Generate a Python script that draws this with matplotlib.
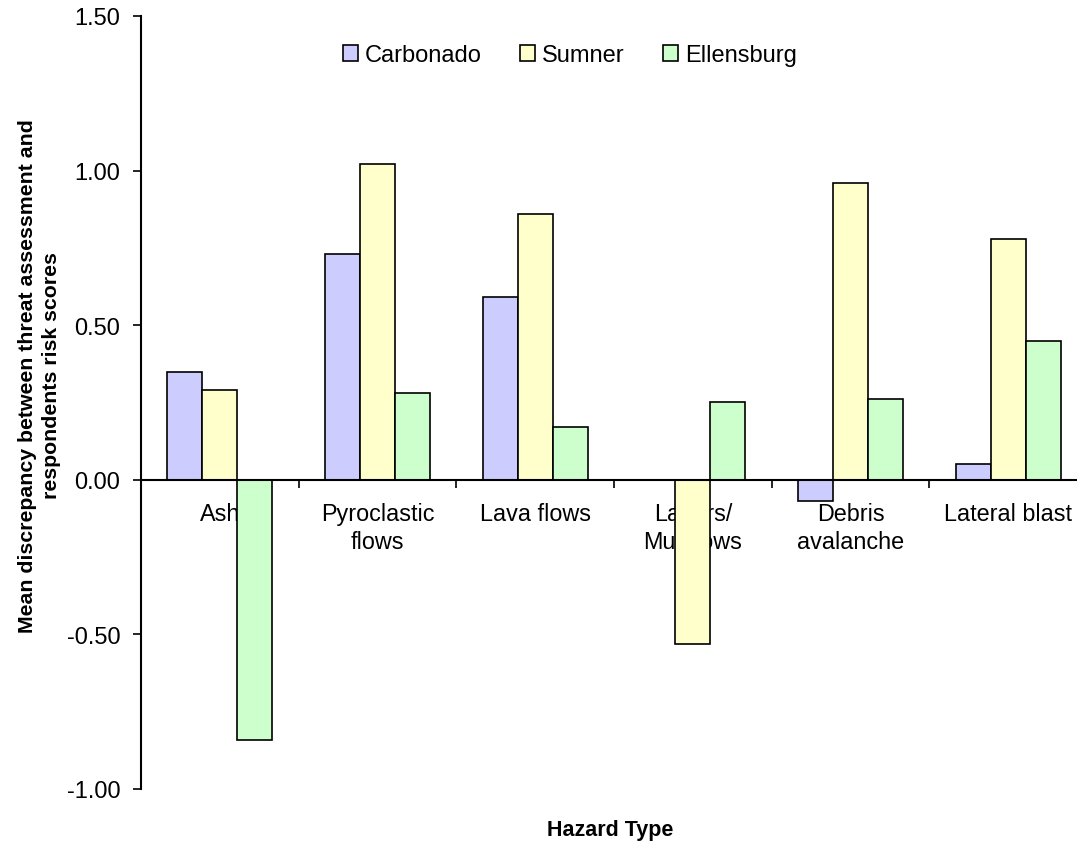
import numpy as np
import matplotlib.pyplot as plt

hazards = ['Ash', 'Pyroclastic\nflows', 'Lava flows', 'Lahars/\nMudflows', 'Debris\navalanche', 'Lateral blast']
carbonado = [0.35, 0.73, 0.59, 0.0, -0.07, 0.05]
sumner = [0.29, 1.02, 0.86, -0.53, 0.96, 0.78]
ellensburg = [-0.84, 0.28, 0.17, 0.25, 0.26, 0.45]
series = ['Carbonado', 'Sumner', 'Ellensburg']
colors = ['#CCCCFF', '#FFFFCC', '#CCFFCC']

plt.rcParams['font.family'] = ['Liberation Sans', 'DejaVu Sans']

fig = plt.figure(figsize=(10.77, 8.45), dpi=100)
ax = fig.add_axes([0.1309, 0.0651, 0.8784, 0.9148])

x = np.arange(len(hazards)) + 0.5
w = 0.222
for j, (vals, name) in enumerate(zip([carbonado, sumner, ellensburg], series)):
    ax.bar(x + (j - 1) * w, vals, width=w, color=colors[j], edgecolor='black',
           linewidth=1.2, label=name, zorder=2)

ax.set_xlim(0, 6)
ax.set_ylim(-1.0, 1.5)
yt = [-1.0, -0.5, 0.0, 0.5, 1.0, 1.5]
ax.set_yticks(yt)
ax.set_yticklabels(['%.2f' % v for v in yt], fontsize=17)
ax.tick_params(axis='y', direction='out', length=6, width=1.2, pad=9)

ax.spines['top'].set_visible(False)
ax.spines['right'].set_visible(False)
ax.spines['bottom'].set_position(('data', 0))
ax.spines['left'].set_linewidth(1.5)
ax.spines['bottom'].set_linewidth(1.5)

# category boundaries get the tick marks, names sit in between
ax.set_xticks(np.arange(1, 6))
ax.set_xticklabels([])
ax.tick_params(axis='x', which='major', direction='out', length=6, width=1.2)
ax.set_xticks(x, minor=True)
ax.set_xticklabels(hazards, minor=True, fontsize=16.8, linespacing=1.3)
ax.tick_params(axis='x', which='minor', length=0, pad=16)

ax.set_ylabel('Mean discrepancy between threat assessment and\nrespondents risk scores',
              fontsize=15.3, fontweight='bold', linespacing=1.3)
ax.yaxis.set_label_coords(-0.085, 0.5356)
fig.text(0.567, 0.0107, 'Hazard Type', fontsize=15.5, fontweight='bold', ha='center', va='baseline')

fig.legend(loc='center', bbox_to_anchor=(0.529, 0.9337), ncol=3, frameon=False, fontsize=17,
           handlelength=0.65, handleheight=0.65, handletextpad=0.3, columnspacing=1.6)

fig.savefig('out.png', dpi=100)
